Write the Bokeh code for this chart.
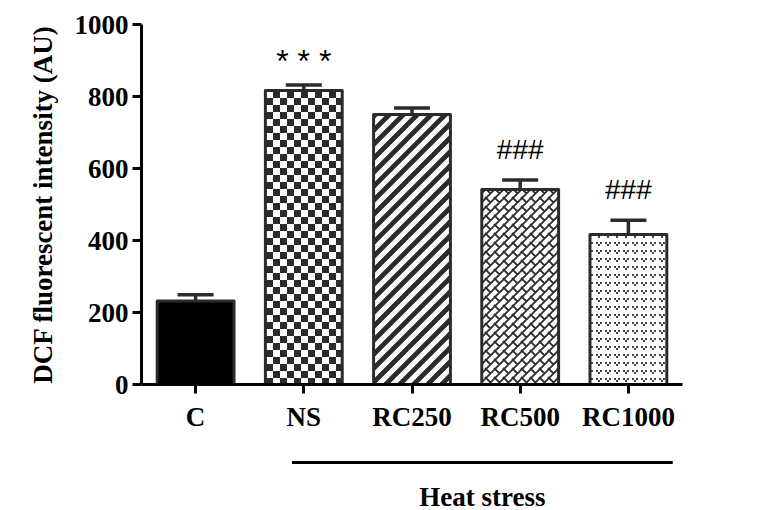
import base64
from bokeh.plotting import figure
from bokeh.layouts import column
from bokeh.models import (ColumnDataSource, Whisker, TeeHead, CanvasTexture,
                          ImageURLTexture)
from bokeh.core.properties import value
from bokeh.embed import file_html
from bokeh.resources import INLINE

# ---- data ----
categories = ["C", "NS", "RC250", "RC500", "RC1000"]
means = [232, 817, 750, 542, 417]
errors = [17, 15, 18, 26, 39]
marks = ["", "* * *", "", "###", "###"]
heat_group = ["NS", "RC250", "RC500", "RC1000"]
group_label = "Heat stress"
y_label = "DCF fluorescent intensity (AU)"
y_ticks = [0, 200, 400, 600, 800, 1000]

DARK = "#2b2b2b"
SERIF = "Liberation Serif"
W = 760


def svg_tile(size, body):
    svg = (f"<svg xmlns='http://www.w3.org/2000/svg' width='{size}' height='{size}'>"
           f"{body}</svg>")
    return "data:image/svg+xml;base64," + base64.b64encode(svg.encode()).decode()


checker = ImageURLTexture(url=svg_tile(14,
    f"<rect width='7' height='7' fill='{DARK}'/>"
    f"<rect x='7' y='7' width='7' height='7' fill='{DARK}'/>"))
diag = ImageURLTexture(url=svg_tile(14,
    f"<path d='M-1,15 L15,-1 M-7,7 L7,-7 M7,21 L21,7' stroke='{DARK}' "
    f"stroke-width='4.8' fill='none'/>"))
bricks = CanvasTexture(code=f"""
const s = 9;
ctx.canvas.width = s; ctx.canvas.height = s;
ctx.strokeStyle = '{DARK}';
ctx.lineWidth = 1.8;
ctx.beginPath();
ctx.moveTo(-1, s + 1); ctx.lineTo(s + 1, -1);
ctx.moveTo(-s/2, s/2); ctx.lineTo(s/2, -s/2);
ctx.moveTo(s/2, s*1.5); ctx.lineTo(s*1.5, s/2);
ctx.moveTo(-1, -1); ctx.lineTo(s/2, s/2);
ctx.moveTo(s - 1, s - 1); ctx.lineTo(s + 1, s + 1);
ctx.stroke();
""")
dots = CanvasTexture(code="""
ctx.canvas.width = 9; ctx.canvas.height = 8;
ctx.fillStyle = '#444444';
ctx.fillRect(2, 2, 2, 2);
ctx.fillRect(6, 2, 2, 2);
ctx.fillRect(4, 4, 2, 2);
""")

styles = {
    "C": dict(fill_color="black"),
    "NS": dict(fill_color="white", hatch_pattern=value("checker"),
               hatch_extra={"checker": checker}),
    "RC250": dict(fill_color="white", hatch_pattern=value("diag"),
                  hatch_extra={"diag": diag}),
    "RC500": dict(fill_color="white", hatch_pattern=value("bricks"),
                  hatch_extra={"bricks": bricks}),
    "RC1000": dict(fill_color="white", hatch_pattern=value("dots"),
                   hatch_extra={"dots": dots}),
}

p = figure(x_range=categories, y_range=(0, 1000), width=W, height=440,
           output_backend="svg", toolbar_location=None,
           min_border_left=141, min_border_right=78,
           min_border_top=24, min_border_bottom=56)
p.x_range.range_padding = 0
p.outline_line_color = None
p.xgrid.visible = False
p.ygrid.visible = False

upper = [m + e for m, e in zip(means, errors)]

for i, c in enumerate(categories):
    s = ColumnDataSource(dict(x=[c], top=[means[i]]))
    p.vbar(x="x", top="top", width=0.71, source=s, line_color=DARK,
           line_width=3, line_join="round", **styles[c])

src = ColumnDataSource(dict(x=categories, top=means, upper=upper))
wh = Whisker(base="x", upper="upper", lower="top", source=src,
             line_color=DARK, line_width=3.5,
             upper_head=TeeHead(size=36, line_width=3.5, line_color=DARK),
             lower_head=None, level="overlay")
p.add_layout(wh)

# significance marks
star_idx = [i for i, m in enumerate(marks) if m.startswith("*")]
hash_idx = [i for i, m in enumerate(marks) if m.startswith("#")]
star_src = ColumnDataSource(dict(x=[categories[i] for i in star_idx],
                                 y=[upper[i] for i in star_idx],
                                 t=[marks[i] for i in star_idx]))
hash_src = ColumnDataSource(dict(x=[categories[i] for i in hash_idx],
                                 y=[upper[i] for i in hash_idx],
                                 t=[marks[i] for i in hash_idx]))
p.text(x="x", y="y", text="t", source=star_src, text_align="center",
       text_baseline="middle", y_offset=-24, text_font=value("Liberation Sans"),
       text_font_size="32px", text_color="black")
p.text(x="x", y="y", text="t", source=hash_src, text_align="center",
       text_baseline="middle", y_offset=-31, text_font=value("Liberation Sans"),
       text_font_size="28px", text_color="black")

# axes
for ax in (p.xaxis[0], p.yaxis[0]):
    ax.axis_line_width = 3
    ax.axis_line_color = "black"
    ax.major_tick_line_width = 3
    ax.major_tick_line_color = "black"
    ax.major_tick_out = 9
    ax.major_tick_in = 0
    ax.minor_tick_line_color = None
    ax.major_label_text_font = SERIF
    ax.major_label_text_font_style = "bold"
    ax.major_label_text_font_size = "27px"
    ax.major_label_text_color = "black"

p.yaxis.ticker = y_ticks
p.yaxis.major_label_standoff = 4
p.xaxis.major_label_standoff = 8
p.yaxis.axis_label = y_label
p.yaxis.axis_label_text_font = SERIF
p.yaxis.axis_label_text_font_style = "bold"
p.yaxis.axis_label_text_font_size = "27px"
p.yaxis.axis_label_text_color = "black"
p.yaxis.axis_label_standoff = 14

# group bracket panel below the axis (shares the x scale)
p2 = figure(x_range=p.x_range, y_range=(0, 70), width=W, height=70,
            output_backend="svg", toolbar_location=None,
            x_axis_location=None, y_axis_location=None,
            min_border_left=141, min_border_right=78,
            min_border_top=0, min_border_bottom=0)
p2.outline_line_color = None
p2.grid.visible = False
x0 = categories.index(heat_group[0]) + 0.39
x1 = categories.index(heat_group[-1]) + 0.91
p2.segment(x0=[x0], y0=[48], x1=[x1], y1=[48], line_width=3, line_color="black")
p2.text(x=[(x0 + x1) / 2], y=[14], text=[group_label], text_align="center",
        text_baseline="middle", text_font=value(SERIF),
        text_font_style="bold", text_font_size="27px", text_color="black")

layout = column(p, p2, spacing=0)
open("out.html", "w").write(file_html(layout, INLINE))
